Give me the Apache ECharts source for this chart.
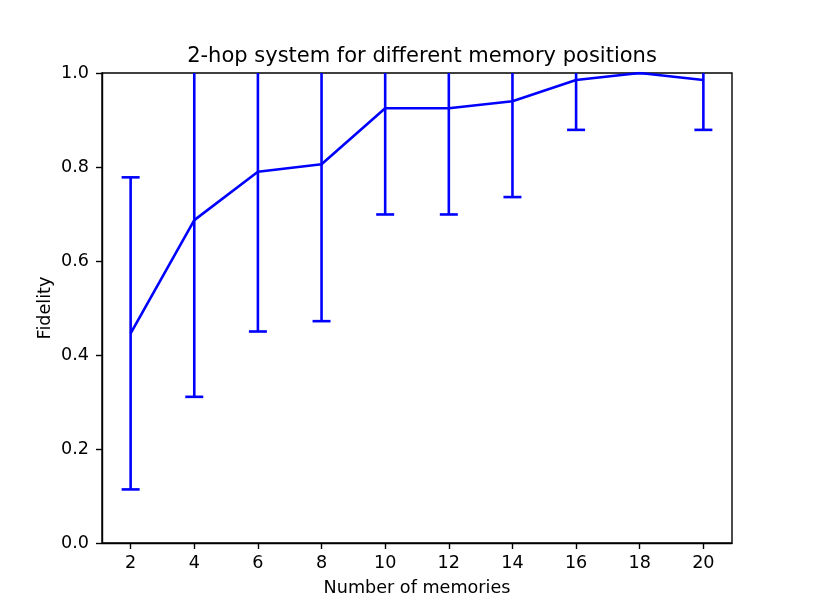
<!DOCTYPE html>
<html>
<head>
<meta charset="utf-8">
<script src="https://cdn.jsdelivr.net/npm/echarts@6/dist/echarts.min.js"></script>
<style>
html,body{margin:0;padding:0;background:#fff;}
#main{width:814px;height:610px;}
</style>
</head>
<body>
<div id="main"></div>
<script>
// memories count on x, mean fidelity and error size on y
var memories = [2, 4, 6, 8, 10, 12, 14, 16, 18, 20];
var fidelity = [0.446, 0.687, 0.790, 0.806, 0.925, 0.925, 0.940, 0.985, 1.0, 0.985];
var errSize = [0.332, 0.376, 0.340, 0.334, 0.226, 0.226, 0.204, 0.106, 0, 0.106];
var xTicks = [2, 4, 6, 8, 10, 12, 14, 16, 18, 20];

var lineData = [];
var errData = [];
for (var i = 0; i < memories.length; i++) {
    lineData.push([memories[i], fidelity[i]]);
    errData.push([memories[i], fidelity[i] - errSize[i], fidelity[i] + errSize[i]]);
}

var blue = '#0000ff';
var font = 'DejaVu Sans';

var chart = echarts.init(document.getElementById('main'));
var option = {
    backgroundColor: '#fff',
    animation: false,
    title: {
        text: '2-hop system for different memory positions',
        left: 417,
        top: 41,
        textAlign: 'center',
        textStyle: {fontFamily: font, fontSize: 21, fontWeight: 'normal', color: '#000'}
    },
    grid: {
        left: 102, top: 73, width: 630, height: 470,
        show: true, borderColor: '#000', borderWidth: 1.4, backgroundColor: 'transparent'
    },
    xAxis: {
        type: 'value',
        min: 1.1,
        max: 20.9,
        name: 'Number of memories',
        nameLocation: 'middle',
        nameGap: 36,
        nameMoveOverlap: false,
        nameTextStyle: {fontFamily: font, fontSize: 17.6, color: '#000'},
        splitLine: {show: false},
        axisLine: {show: true, lineStyle: {color: '#000', width: 1.4}},
        axisTick: {show: true, inside: false, length: 6, lineStyle: {color: '#000', width: 1.4}, customValues: xTicks},
        axisLabel: {fontFamily: font, fontSize: 17.6, color: '#000', margin: 11, customValues: xTicks}
    },
    yAxis: {
        type: 'value',
        min: 0,
        max: 1,
        interval: 0.2,
        name: 'Fidelity',
        nameLocation: 'middle',
        nameGap: 48,
        nameMoveOverlap: false,
        nameRotate: 90,
        nameTextStyle: {fontFamily: font, fontSize: 17.6, color: '#000'},
        splitLine: {show: false},
        axisLine: {show: true, lineStyle: {color: '#000', width: 1.4}},
        axisTick: {show: true, inside: false, length: 6, lineStyle: {color: '#000', width: 1.4}},
        axisLabel: {
            fontFamily: font, fontSize: 17.6, color: '#000', margin: 13,
            formatter: function (v) { return v.toFixed(1); }
        }
    },
    series: [
        {
            type: 'line',
            data: lineData,
            showSymbol: false,
            symbol: 'none',
            lineStyle: {color: blue, width: 2.6},
            itemStyle: {color: blue},
            z: 3
        },
        {
            type: 'custom',
            data: errData,
            clip: true,
            z: 2,
            renderItem: function (params, api) {
                var x = api.value(0);
                var lo = api.coord([x, api.value(1)]);
                var hi = api.coord([x, api.value(2)]);
                var cap = 9;
                var style = {stroke: blue, lineWidth: 2.6};
                return {
                    type: 'group',
                    children: [
                        {type: 'line', shape: {x1: lo[0], y1: lo[1], x2: hi[0], y2: hi[1]}, style: style},
                        {type: 'line', shape: {x1: lo[0] - cap, y1: lo[1], x2: lo[0] + cap, y2: lo[1]}, style: style},
                        {type: 'line', shape: {x1: hi[0] - cap, y1: hi[1], x2: hi[0] + cap, y2: hi[1]}, style: style}
                    ]
                };
            }
        }
    ]
};
chart.setOption(option);
</script>
</body>
</html>
